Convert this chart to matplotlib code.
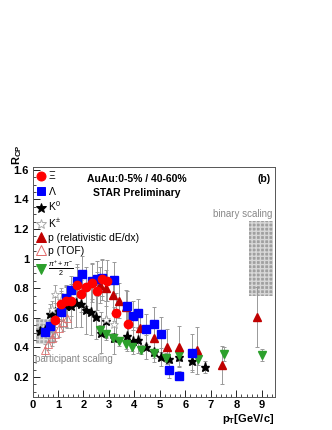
import matplotlib
matplotlib.use("Agg")
import matplotlib.pyplot as plt
from matplotlib.patches import Rectangle

plt.rcParams['font.family'] = ['Liberation Sans', 'DejaVu Sans']
plt.rcParams['mathtext.fontset'] = 'custom'
plt.rcParams['mathtext.rm'] = 'Liberation Sans'
plt.rcParams['mathtext.it'] = 'Liberation Sans:italic'
plt.rcParams['mathtext.bf'] = 'Liberation Sans:bold'

# Xi
xi_pt = [0.88, 1.1, 1.31, 1.51, 1.73, 1.9, 2.1, 2.32, 2.52, 2.71, 2.91, 3.26, 3.76]
xi_rcp = [0.585, 0.69, 0.71, 0.715, 0.82, 0.76, 0.81, 0.835, 0.78, 0.86, 0.85, 0.63, 0.56]
xi_err = [0.05, 0.08, 0.1, 0.1, 0.12, 0.12, 0.13, 0.13, 0.13, 0.14, 0.14, 0.14, 0.14]

# Lambda
la_pt = [0.5, 0.7, 1.12, 1.31, 1.51, 1.73, 1.93, 2.32, 2.52, 2.71, 3.2, 3.69, 3.93,
         4.15, 4.45, 4.76, 5.06, 5.35, 5.76, 6.25]
la_rcp = [0.505, 0.545, 0.64, 0.735, 0.785, 0.85, 0.895, 0.85, 0.865, 0.87, 0.855,
          0.68, 0.615, 0.63, 0.525, 0.555, 0.487, 0.245, 0.207, 0.36]
la_err = [0.03, 0.04, 0.06, 0.08, 0.1, 0.11, 0.12, 0.12, 0.12, 0.12, 0.12, 0.1, 0.1,
          0.1, 0.1, 0.12, 0.12, 0.05, 0.03, 0.13]

# K0s
k0_pt = [0.3, 0.5, 0.7, 0.9, 1.1, 1.3, 1.5, 1.7, 1.9, 2.1, 2.3, 2.5, 2.7, 2.9, 3.2,
         3.7, 3.93, 4.15, 4.45, 4.76, 5.06, 5.35, 5.76, 6.25, 6.76]
k0_rcp = [0.51, 0.515, 0.625, 0.64, 0.66, 0.68, 0.68, 0.70, 0.695, 0.65, 0.64, 0.605,
          0.50, 0.58, 0.465, 0.475, 0.445, 0.45, 0.40, 0.37, 0.335, 0.32, 0.335, 0.31, 0.265]
k0_err = [0.03, 0.04, 0.07, 0.1, 0.12, 0.14, 0.15, 0.16, 0.16, 0.16, 0.16, 0.15,
          0.14, 0.13, 0.11, 0.1, 0.09, 0.09, 0.08, 0.07, 0.06, 0.06, 0.06, 0.06, 0.04]

# K+-
kc_pt = [0.75, 0.9, 1.1, 2.9, 3.2]
kc_rcp = [0.66, 0.76, 0.72, 0.59, 0.555]
kc_err = [0.05, 0.06, 0.08, 0.12, 0.12]

# p (relativistic dE/dx)
pr_pt = [2.65, 2.9, 3.15, 3.4, 3.65, 4.22, 4.76, 5.26, 5.76, 6.46, 7.44, 8.83]
pr_rcp = [0.82, 0.80, 0.755, 0.715, 0.67, 0.53, 0.465, 0.405, 0.405, 0.38, 0.28, 0.605]
pr_err = [0.12, 0.12, 0.12, 0.12, 0.12, 0.12, 0.12, 0.12, 0.14, 0.16, 0.13, 0.2]

# p (TOF)
pt_pt = [0.5, 0.62, 0.75, 0.9, 1.05, 1.2, 1.35]
pt_rcp = [0.38, 0.42, 0.46, 0.49, 0.53, 0.57, 0.6]
pt_err = [0.04, 0.04, 0.05, 0.05, 0.06, 0.06, 0.07]

# (pi+ + pi-)/2
pi_pt = [2.65, 2.9, 3.15, 3.4, 3.65, 3.9, 4.25, 4.75, 5.25, 5.75, 6.5, 7.5, 9.0]
pi_rcp = [0.52, 0.49, 0.465, 0.44, 0.42, 0.405, 0.385, 0.36, 0.33, 0.345, 0.32, 0.355, 0.35]
pi_err = [0.03, 0.03, 0.03, 0.03, 0.03, 0.03, 0.03, 0.03, 0.03, 0.04, 0.04, 0.05, 0.04]

fig = plt.figure(figsize=(3.32, 4.30), dpi=100)
ax = fig.add_axes([0.098, 0.077, 0.729, 0.535])

# scaling boxes
ax.add_patch(Rectangle((0.15, 0.42), 0.75, 0.17, facecolor='#a8a8a8',
                       edgecolor='#dddddd', hatch='++++', lw=0, zorder=1))
ax.add_patch(Rectangle((8.5, 0.75), 0.95, 0.505, facecolor='#a0a0a0',
                       edgecolor='#d8d8d8', hatch='++++', lw=0, zorder=1))

ebkw = dict(ls='none', ecolor='#999999', elinewidth=0.7, capsize=1.2, capthick=0.7, zorder=2)

ax.errorbar(k0_pt, k0_rcp, yerr=k0_err, marker='*', ms=6.5, mfc='black', mec='black', **ebkw)
ax.errorbar(kc_pt, kc_rcp, yerr=kc_err, marker='*', ms=6.5, mfc='white', mec='#aaaaaa',
            mew=0.6, **ebkw)
ax.errorbar(pt_pt, pt_rcp, yerr=pt_err, marker='^', ms=5.5, mfc='none', mec='#e06a6a',
            mew=0.6, **ebkw)
ax.errorbar(pi_pt, pi_rcp, yerr=pi_err, marker='v', ms=6, mfc='#2ca02c', mec='#2ca02c', **ebkw)
ax.errorbar(pr_pt, pr_rcp, yerr=pr_err, marker='^', ms=6, mfc='#c00000', mec='#c00000', **ebkw)
ax.errorbar(la_pt, la_rcp, yerr=la_err, marker='s', ms=5.5, mfc='#0000ff', mec='#0000ff', **ebkw)
ax.errorbar(xi_pt, xi_rcp, yerr=xi_err, marker='o', ms=6, mfc='#ff0000', mec='#ff0000', **ebkw)

ax.set_xlim(0, 9.5)
ax.set_ylim(0.065, 1.62)
ax.set_xticks(range(0, 10))
ax.set_yticks([0.2, 0.4, 0.6, 0.8, 1.0, 1.2, 1.4, 1.6])
ax.set_yticklabels(['0.2', '0.4', '0.6', '0.8', '1', '1.2', '1.4', '1.6'])
ax.minorticks_on()
ax.tick_params(which='both', direction='in', top=False, right=False, labelsize=8)
ax.tick_params(which='major', length=5, width=0.6, pad=2.5)
ax.tick_params(which='minor', length=2.5, width=0.5)
for lab in ax.get_xticklabels() + ax.get_yticklabels():
    lab.set_fontweight('bold')
for s in ax.spines.values():
    s.set_color('#555555')
    s.set_linewidth(0.7)

fig.text(0.03, 0.665, r'$\mathbf{R}_{\mathbf{CP}}$', rotation=90, fontsize=8,
         ha='left', va='top')
fig.text(0.827, 0.043, r'$\mathbf{p}_{\mathbf{T}}\mathbf{[GeV/c]}$', fontsize=8,
         ha='right', va='top')

ax.text(4.1, 1.54, 'AuAu:0-5% / 40-60%', fontsize=7.5, fontweight='bold', ha='center', va='center')
ax.text(4.1, 1.44, 'STAR Preliminary', fontsize=7.5, fontweight='bold', ha='center', va='center')
ax.text(9.35, 1.54, '(b)', fontsize=7.5, fontweight='bold', ha='right', va='center')
ax.text(9.42, 1.3, 'binary scaling', fontsize=7, color='#888888', ha='right', va='center')
ax.text(0.08, 0.32, 'participant scaling', fontsize=7, color='#888888', ha='left', va='center')

# legend
leg_items = [
    ('o', '#ff0000', '#ff0000', r'$\Xi$', 6.5),
    ('s', '#0000ff', '#0000ff', r'$\Lambda$', 6),
    ('*', 'black', 'black', r'K$^0$', 7),
    ('*', 'white', '#aaaaaa', r'K$^{\pm}$', 7),
    ('^', '#c00000', '#c00000', 'p (relativistic dE/dx)', 6.5),
    ('^', 'none', '#e06a6a', 'p (TOF)', 6.5),
    ('v', '#2ca02c', '#2ca02c', r'$\frac{\pi^{+}+\pi^{-}}{2}$', 6.5),
]
handles = []
labels = []
for m, fc, ec, lab, ms in leg_items:
    h, = ax.plot([], [], ls='none', marker=m, mfc=fc, mec=ec, ms=ms, mew=0.7)
    handles.append(h)
    labels.append(lab)
ax.legend(handles, labels, loc='upper left', frameon=False, fontsize=7.5,
          handletextpad=0.0, handlelength=1.2, labelspacing=0.3,
          borderaxespad=0.1, borderpad=0.15)

fig.savefig('out.png', dpi=100)
